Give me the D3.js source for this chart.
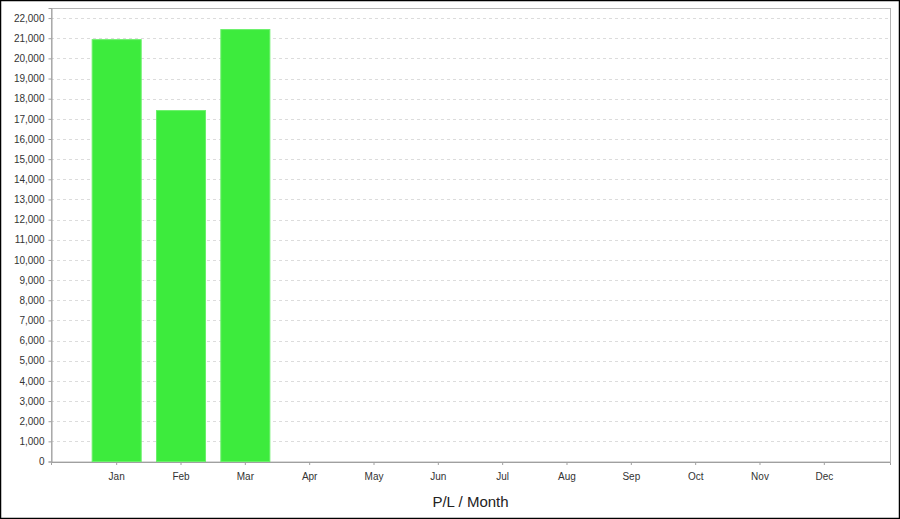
<!DOCTYPE html>
<html><head><meta charset="utf-8">
<script src="https://cdn.jsdelivr.net/npm/d3@7"></script>
<style>body{margin:0;background:#fff}svg{display:block;font-family:"Liberation Sans",Arial,sans-serif}</style>
</head><body><svg id="c" width="900" height="519"></svg>
<script>
const months = ["Jan","Feb","Mar","Apr","May","Jun","Jul","Aug","Sep","Oct","Nov","Dec"];
const plValues = [20930, 17410, 21430, null, null, null, null, null, null, null, null, null];
const yTicks = d3.range(0, 22001, 1000);
const title = "P/L / Month";

const svg = d3.select("#c");
const L = 51, R = 890, T = 8, B = 461.5;
const x = d3.scaleBand().domain(months).range([L, R]).paddingInner(0.238).paddingOuter(0.64);
const y = d3.scaleLinear().domain([0, 22500]).range([B, T]);

svg.append("rect").attr("x",0.5).attr("y",0.5).attr("width",899).attr("height",518)
  .attr("fill","#fff").attr("stroke","#000").attr("stroke-width",1.5);

// grid
svg.append("g").selectAll("line").data(yTicks.filter(d=>d>0)).join("line")
  .attr("x1",L).attr("x2",R).attr("y1",d=>Math.round(y(d))+0.5).attr("y2",d=>Math.round(y(d))+0.5)
  .attr("stroke","#dcdcdc").attr("stroke-dasharray","3,3");

// plot frame
svg.append("rect").attr("x",L+0.5).attr("y",T+0.5).attr("width",R-L).attr("height",B-T)
  .attr("fill","none").attr("stroke","#b4b4b4");

// bars
svg.append("g").selectAll("rect").data(months.map((m,i)=>({m,v:plValues[i]})).filter(d=>d.v!=null)).join("rect")
  .attr("x",d=>x(d.m)).attr("width",x.bandwidth())
  .attr("y",d=>y(d.v)).attr("height",d=>B-y(d.v))
  .attr("fill","#3deb3d").attr("stroke","#6af06a").attr("stroke-width",1);

// y axis
const ya = svg.append("g").attr("transform",`translate(${L+0.5},0)`)
  .call(d3.axisLeft(y).tickValues(yTicks).tickSize(3).tickPadding(4).tickFormat(d3.format(",")));
ya.select(".domain").attr("stroke","#a0a0a0");
ya.selectAll(".tick line").attr("stroke","#a0a0a0");
ya.selectAll("text").attr("font-size",10).attr("fill","#333").attr("font-family","Liberation Sans, Arial, sans-serif");

// x axis
const xa = svg.append("g").attr("transform",`translate(0,${B+0.5})`)
  .call(d3.axisBottom(x).tickSize(3).tickPadding(8));
xa.select(".domain").attr("stroke","#a0a0a0");
xa.selectAll(".tick line").attr("stroke","#a0a0a0");
xa.selectAll("text").attr("font-size",10).attr("fill","#333").attr("font-family","Liberation Sans, Arial, sans-serif");

svg.append("text").attr("x",(L+R)/2).attr("y",506.5).attr("text-anchor","middle")
  .attr("font-size",15).attr("fill","#222").text(title);
</script></body></html>
